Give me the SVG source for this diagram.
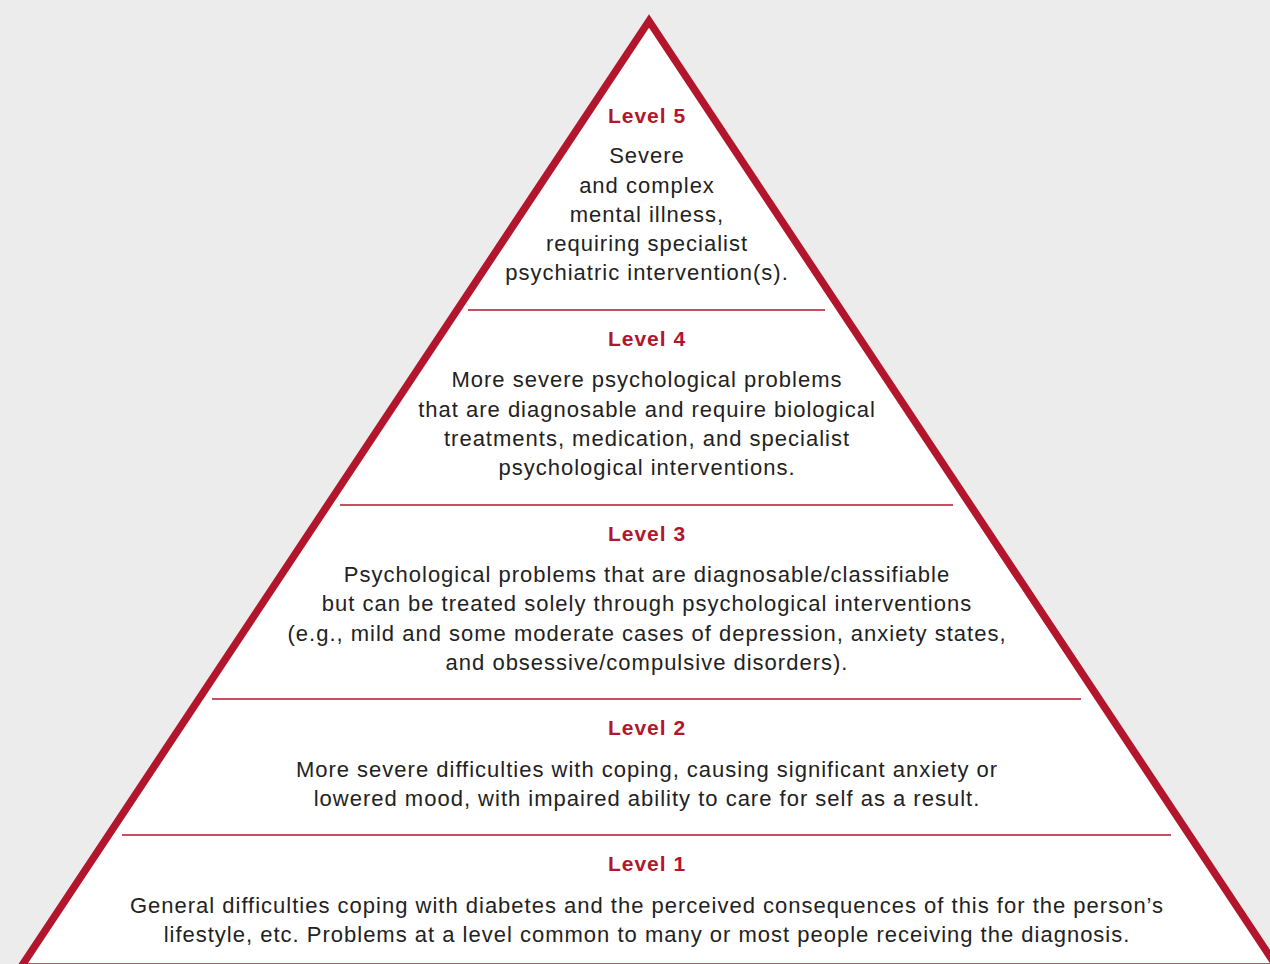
<svg xmlns="http://www.w3.org/2000/svg" width="1270" height="964" viewBox="0 0 1270 964">
<style>
.bg{fill:#ececec}
.tri{fill:#ffffff;stroke:#b3162c;stroke-width:7.5;stroke-linejoin:miter;stroke-miterlimit:10}
.sep{stroke:#b3162c;stroke-width:1.5}
.lvl{font-family:"Liberation Sans",Arial,sans-serif;font-size:21px;font-weight:bold;letter-spacing:1px;fill:#b3162c;text-anchor:middle}
.txt{font-family:"Liberation Sans",Arial,sans-serif;font-size:22px;letter-spacing:1px;fill:#222222;text-anchor:middle}
</style>
<rect class="bg" x="0" y="0" width="1270" height="964"/>
<g id="pyramid">
<polygon class="tri" points="649,21 21,967 1277,967"/>
</g>
<g id="connectors">
<line class="sep" x1="468" y1="310" x2="825" y2="310"/>
<line class="sep" x1="340" y1="505" x2="953" y2="505"/>
<line class="sep" x1="212" y1="699" x2="1081" y2="699"/>
<line class="sep" x1="122" y1="835" x2="1171" y2="835"/>
</g>
<g id="level5">
<text class="lvl" x="647" y="123">Level 5</text>
<text class="txt" x="647" y="163">Severe</text>
<text class="txt" x="647" y="193">and complex</text>
<text class="txt" x="647" y="222">mental illness,</text>
<text class="txt" x="647" y="251">requiring specialist</text>
<text class="txt" x="647" y="280">psychiatric intervention(s).</text>
</g>
<g id="level4">
<text class="lvl" x="647" y="346">Level 4</text>
<text class="txt" x="647" y="387">More severe psychological problems</text>
<text class="txt" x="647" y="417">that are diagnosable and require biological</text>
<text class="txt" x="647" y="446">treatments, medication, and specialist</text>
<text class="txt" x="647" y="475">psychological interventions.</text>
</g>
<g id="level3">
<text class="lvl" x="647" y="541">Level 3</text>
<text class="txt" x="647" y="582">Psychological problems that are diagnosable/classifiable</text>
<text class="txt" x="647" y="611">but can be treated solely through psychological interventions</text>
<text class="txt" x="647" y="641">(e.g., mild and some moderate cases of depression, anxiety states,</text>
<text class="txt" x="647" y="670">and obsessive/compulsive disorders).</text>
</g>
<g id="level2">
<text class="lvl" x="647" y="735">Level 2</text>
<text class="txt" x="647" y="777">More severe difficulties with coping, causing significant anxiety or</text>
<text class="txt" x="647" y="806">lowered mood, with impaired ability to care for self as a result.</text>
</g>
<g id="level1">
<text class="lvl" x="647" y="871">Level 1</text>
<text class="txt" x="647" y="913">General difficulties coping with diabetes and the perceived consequences of this for the person’s</text>
<text class="txt" x="647" y="942">lifestyle, etc. Problems at a level common to many or most people receiving the diagnosis.</text>
</g>
</svg>
